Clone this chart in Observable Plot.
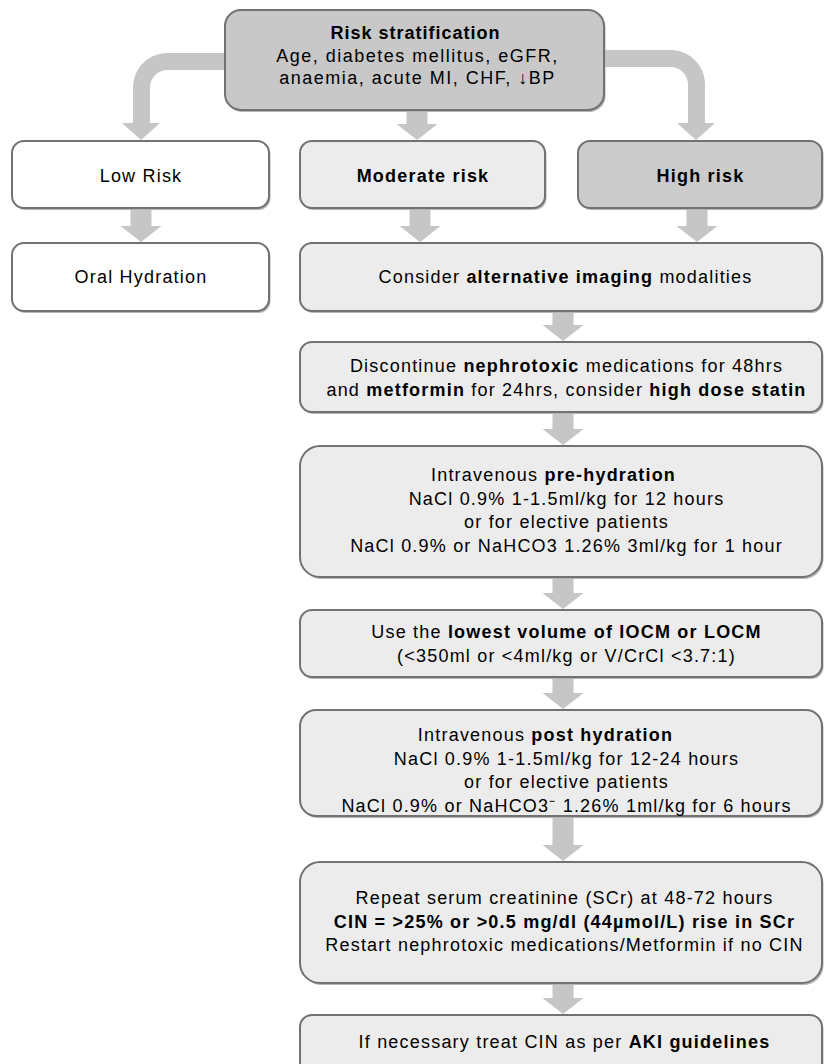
<!DOCTYPE html>
<html><head><meta charset="utf-8">
<script src="https://cdn.jsdelivr.net/npm/d3@7"></script>
<script src="https://cdn.jsdelivr.net/npm/@observablehq/plot@0.6"></script>
<style>body{margin:0;background:#fff}</style>
</head><body><div id="chart"></div>
<script>
// ---- content (text with *bold* markers) ----
const boxIds = ["risk","low","moderate","high","oral","imaging","discontinue","prehydration","volume","posthydration","repeat","aki"];
const boxLines = [
  ["*Risk stratification*", "Age, diabetes mellitus, eGFR,", "anaemia, acute MI, CHF, \u2193BP"],
  ["Low Risk"],
  ["*Moderate risk*"],
  ["*High risk*"],
  ["Oral Hydration"],
  ["Consider *alternative imaging* modalities"],
  ["Discontinue *nephrotoxic* medications for 48hrs", "and *metformin* for 24hrs, consider *high dose statin*"],
  ["Intravenous *pre-hydration*", "NaCl 0.9% 1-1.5ml/kg for 12 hours", "or for elective patients", "NaCl 0.9% or NaHCO3 1.26% 3ml/kg for 1 hour"],
  ["Use the *lowest volume of IOCM or LOCM*", "(<350ml or <4ml/kg or V/CrCl <3.7:1)"],
  ["Intravenous *post hydration*", "NaCl 0.9% 1-1.5ml/kg for 12-24 hours", "or for elective patients", "NaCl 0.9% or NaHCO3\u207B 1.26% 1ml/kg for 6 hours"],
  ["Repeat serum creatinine (SCr) at 48-72 hours", "*CIN = >25% or >0.5 mg/dl (44\u00B5mol/L) rise in SCr*", "Restart nephrotoxic medications/Metformin if no CIN"],
  ["If necessary treat CIN as per *AKI guidelines*"]
];
const links = [
  ["risk","low"],["risk","moderate"],["risk","high"],
  ["low","oral"],["moderate","imaging"],["high","imaging"],
  ["imaging","discontinue"],["discontinue","prehydration"],["prehydration","volume"],
  ["volume","posthydration"],["posthydration","repeat"],["repeat","aki"]
];

// ---- layout (positions and styles) ----
const layout = {
  risk:          {x1:225, x2:604, y1:10,   y2:110,  fill:"#c8c8c8", rx:16, top:23, ax:417, ls:1.5, lh:22.5, titleLs:1.0, titleDx:-2},
  low:           {x1:12,  x2:269, y1:141,  y2:208,  fill:"#ffffff", rx:12, top:35},
  moderate:      {x1:300, x2:545, y1:141,  y2:208,  fill:"#ececec", rx:12, top:35},
  high:          {x1:578, x2:822, y1:141,  y2:208,  fill:"#cbcbcb", rx:12, top:35},
  oral:          {x1:12,  x2:269, y1:243,  y2:311,  fill:"#ffffff", rx:12, top:34},
  imaging:       {x1:300, x2:822, y1:243,  y2:311,  fill:"#ececec", rx:12, top:34, ax:565},
  discontinue:   {x1:300, x2:822, y1:342,  y2:412,  fill:"#ececec", rx:12, top:24, ax:566},
  prehydration:  {x1:300, x2:822, y1:446,  y2:577,  fill:"#ececec", rx:20, top:29, ax:566, titleDx:-13},
  volume:        {x1:300, x2:822, y1:610,  y2:677,  fill:"#ececec", rx:12, top:22, ax:566},
  posthydration: {x1:300, x2:822, y1:710,  y2:816,  fill:"#ececec", rx:16, top:25, ax:566, titleDx:-21},
  repeat:        {x1:300, x2:822, y1:862,  y2:983,  fill:"#ececec", rx:20, top:36, ax:564},
  aki:           {x1:300, x2:822, y1:1015, y2:1080, fill:"#ececec", rx:12, top:27, ax:564}
};
const arrowX = {low:141, moderate:420, high:697, risk:417, other:563};
const LH = 23.5;
const W = 825, H = 1064;
const arrowColor = "#c6c6c6";

const boxes = boxIds.map((id, i) => ({id, ...layout[id], lines: boxLines[i]}));
const textRows = boxes.flatMap(b => b.lines.map((t, j) => ({
  text: t,
  ls: (j === 0 && b.titleLs != null) ? b.titleLs : (b.ls ?? 1.2),
  x: (b.ax ?? (b.x1 + b.x2) / 2) + (j === 0 && b.titleDx ? b.titleDx : 0),
  y: b.y1 + b.top + j * (b.lh ?? LH)
})));

const straight = [], heads = [], curved = [];
links.forEach(([a, b], k) => {
  const A = layout[a], B = layout[b];
  if (a === "risk" && (b === "low" || b === "high")) {
    const left = b === "low";
    const cx = left ? 141 : 696, cy = left ? 61 : 58, r = 26;
    const sx = left ? A.x1 + 1 : A.x2 - 1;
    const arcC = left ? [cx + r, cy + r] : [cx - r, cy + r];
    const base = B.y1 - 18;
    const pts = [[sx, cy]];
    for (let t = 0; t <= 12; t++) {
      const th = -Math.PI / 2 + (left ? -1 : 1) * (Math.PI / 2) * t / 12;
      pts.push([arcC[0] + r * Math.cos(th), arcC[1] + r * Math.sin(th)]);
    }
    pts.push([cx, base + 1]);
    pts.forEach(p => curved.push({x: p[0], y: p[1], z: k}));
    heads.push({x: cx - 19, y1: base, y2: base, z: k}, {x: cx, y1: base, y2: B.y1 - 1, z: k}, {x: cx + 19, y1: base, y2: base, z: k});
  } else {
    const x = arrowX[a] ?? arrowX.other;
    const base = B.y1 - 17;
    straight.push({x1: x - 10.5, x2: x + 10.5, y1: A.y2 + 2, y2: base + 0.5});
    heads.push({x: x - 20.5, y1: base, y2: base, z: k}, {x: x, y1: base, y2: B.y1 - 1, z: k}, {x: x + 20.5, y1: base, y2: base, z: k});
  }
});

const radii = [...new Set(boxes.map(b => b.rx))];
const font = "Liberation Sans, Arial, Helvetica, sans-serif";

const chart = Plot.plot({
  width: W, height: H,
  margin: 0,
  x: {domain: [0, W], range: [0, W], axis: null},
  y: {domain: [0, H], range: [0, H], axis: null},
  style: {background: "#fff"},
  marks: [
    Plot.line(curved, {x: "x", y: "y", z: "z", stroke: arrowColor, strokeWidth: 17, curve: "linear", strokeLinejoin: "round"}),
    Plot.rect(straight, {x1: "x1", x2: "x2", y1: "y1", y2: "y2", fill: arrowColor}),
    Plot.areaY(heads, {x: "x", y1: "y1", y2: "y2", z: "z", fill: arrowColor, curve: "linear"}),
    ...radii.map(r => Plot.rect(boxes.filter(b => b.rx === r), {x1: "x1", x2: "x2", y1: "y1", y2: "y2", rx: r, fill: "#b5b5b5", dx: 1.5, dy: 2})),
    ...radii.map(r => Plot.rect(boxes.filter(b => b.rx === r), {x1: "x1", x2: "x2", y1: "y1", y2: "y2", rx: r, fill: "fill", stroke: "#727272", strokeWidth: 2})),
    Plot.text(textRows, {x: "x", y: "y", text: "text", fontSize: 18, fontFamily: font, fill: "#000", lineAnchor: "middle"})
  ]
});

// rich text: letter spacing and *bold* markers into tspans
d3.select(chart).selectAll("text").each(function(_, i) {
  const row = textRows[i];
  const sel = d3.select(this);
  if (row) sel.attr("letter-spacing", row.ls);
  const raw = this.textContent;
  if (!raw.includes("*")) return;
  const parts = raw.split("*");
  sel.text(null);
  parts.forEach((p, j) => {
    if (!p) return;
    sel.append("tspan").attr("font-weight", j % 2 ? "bold" : null).text(p);
  });
});
document.getElementById("chart").append(chart);
</script>
</body></html>
